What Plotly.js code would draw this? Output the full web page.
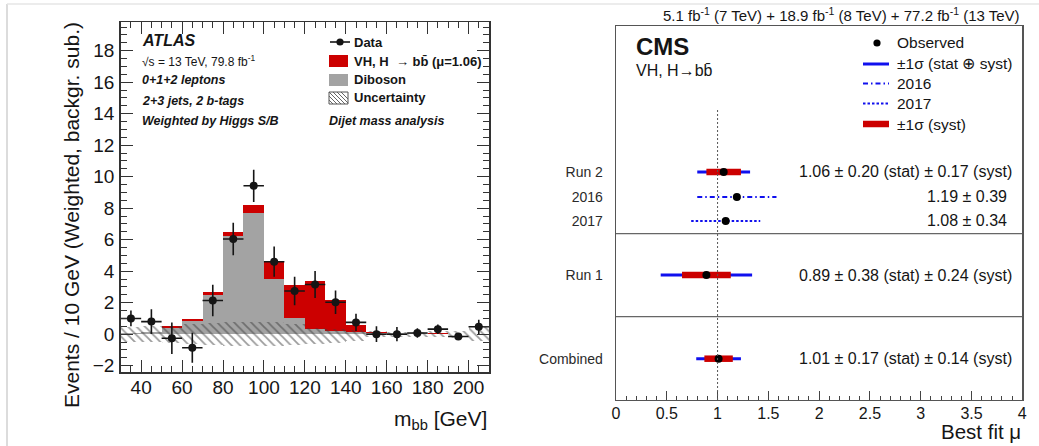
<!DOCTYPE html>
<html>
<head>
<meta charset="utf-8">
<script src="https://cdn.plot.ly/plotly-3.0.1.min.js"></script>
<style>
  html, body { margin: 0; padding: 0; background: #ffffff; }
  #chart { width: 1039px; height: 446px; }
</style>
</head>
<body>
<div id="chart"></div>
<script>
// ---------------- DATA ----------------
// ATLAS: m_bb histogram (10 GeV bins, centres)
const binCenters = [35, 45, 55, 65, 75, 85, 95, 105, 115, 125, 135, 145, 155, 165, 175, 185, 195, 205];
const diboson    = [0.05, 0.15, 0.42, 0.82, 2.50, 6.22, 7.70, 3.50, 1.00, 0.32, 0.20, 0.17, 0.10, 0.07, 0.05, 0.04, 0.03, 0.02];
const vhSignal   = [0.00, 0.02, 0.10, 0.12, 0.15, 0.25, 0.50, 1.15, 2.15, 3.08, 2.00, 0.43, 0.07, 0.03, 0.01, 0.01, 0.00, 0.00];
const dataVals   = [1.00, 0.80, -0.26, -0.86, 2.14, 6.04, 9.42, 4.60, 2.74, 3.15, 2.03, 0.75, 0.00, 0.00, 0.08, 0.32, -0.15, 0.47];
const dataErr    = [0.50, 0.78, 1.00, 0.95, 1.00, 1.03, 1.02, 0.96, 0.90, 0.86, 0.75, 0.55, 0.50, 0.45, 0.30, 0.30, 0.15, 0.45];
const uncUp      = [0.47, 0.50, 0.55, 0.65, 0.72, 0.80, 0.80, 0.78, 0.65, 0.38, 0.33, 0.25, 0.18, 0.15, 0.15, 0.18, 0.20, 0.47];
const uncDown    = [0.47, 0.50, 0.55, 0.62, 0.68, 0.72, 0.75, 0.72, 0.68, 0.60, 0.55, 0.40, 0.20, 0.15, 0.15, 0.18, 0.25, 0.42];
const atlasXTicks = [40, 60, 80, 100, 120, 140, 160, 180, 200];

// CMS: best-fit signal strength
const cmsLabels = ['Run 2', '2016', '2017', 'Run 1', 'Combined'];
const cmsMu     = [1.06, 1.19, 1.08, 0.89, 1.01];
const cmsTotErr = [0.26, 0.39, 0.34, 0.45, 0.22];
const cmsStat   = [0.20, null, null, 0.38, 0.17];
const cmsSyst   = [0.17, null, null, 0.24, 0.14];
const cmsXTicks = [0, 0.5, 1, 1.5, 2, 2.5, 3, 3.5, 4];

// ---------------- LAYOUT HELPERS ----------------
const W = 1039, H = 446;
const px = x => x / W;
const py = y => 1 - y / H;
const FONT = 'Liberation Sans, Arial, Helvetica, sans-serif';
const RED = '#cc0000', GRAY = '#a3a3a3', BLUE = '#1010ee', INK = '#151515';

// CMS row placement (y2 axis in pixel-like units, 0 = bottom of frame)
const cmsRowPos = [228, 203, 179, 125, 41.3];
const cmsRowDash = ['solid', '5px,3px,1.5px,3px', '2.5px,2px', 'solid', 'solid'];
const cmsSeparators = [166.3, 83.3];

// ---------------- TRACES ----------------
const traces = [];

// Diboson (grey)
traces.push({
  type: 'bar', x: binCenters, y: diboson, base: 0,
  marker: { color: GRAY, line: { width: 0 } },
  xaxis: 'x', yaxis: 'y', showlegend: false, name: 'Diboson'
});
// VH signal stacked on diboson (red)
traces.push({
  type: 'bar', x: binCenters, y: vhSignal, base: diboson,
  marker: { color: RED, line: { width: 0 } },
  xaxis: 'x', yaxis: 'y', showlegend: false, name: 'VH, H → bb̄'
});
// Uncertainty band (hatched)
traces.push({
  type: 'bar', x: binCenters,
  y: uncUp.map((u, i) => u + uncDown[i]),
  base: uncDown.map(d => -d),
  marker: {
    color: 'rgba(0,0,0,0)', line: { width: 0 },
    pattern: { shape: '\\', fgcolor: '#3a3a3a', bgcolor: 'rgba(0,0,0,0)', size: 6, solidity: 0.3, fillmode: 'overlay' }
  },
  xaxis: 'x', yaxis: 'y', showlegend: false, name: 'Uncertainty'
});
// Data points
traces.push({
  type: 'scatter', mode: 'markers', x: binCenters, y: dataVals,
  marker: { color: INK, size: 8 },
  error_y: { type: 'data', array: dataErr, color: INK, thickness: 1.6, width: 0 },
  error_x: { type: 'constant', value: 5, color: INK, thickness: 1.6, width: 0 },
  xaxis: 'x', yaxis: 'y', showlegend: false, name: 'Data'
});

// CMS total uncertainty lines
cmsLabels.forEach((lab, i) => {
  traces.push({
    type: 'scatter', mode: 'lines',
    x: [cmsMu[i] - cmsTotErr[i], cmsMu[i] + cmsTotErr[i]],
    y: [cmsRowPos[i], cmsRowPos[i]],
    line: { color: BLUE, width: cmsRowDash[i] === 'solid' ? 3 : 2.2, dash: cmsRowDash[i] },
    xaxis: 'x2', yaxis: 'y2', showlegend: false, name: lab
  });
});
// CMS systematic bars
cmsLabels.forEach((lab, i) => {
  if (cmsSyst[i] === null) return;
  traces.push({
    type: 'scatter', mode: 'lines',
    x: [cmsMu[i] - cmsSyst[i], cmsMu[i] + cmsSyst[i]],
    y: [cmsRowPos[i], cmsRowPos[i]],
    line: { color: RED, width: 6.5 },
    xaxis: 'x2', yaxis: 'y2', showlegend: false, name: lab + ' syst'
  });
});
// CMS observed
traces.push({
  type: 'scatter', mode: 'markers', x: cmsMu, y: cmsRowPos,
  marker: { color: '#000000', size: 8 },
  xaxis: 'x2', yaxis: 'y2', showlegend: false, name: 'Observed'
});

// ---------------- ANNOTATIONS ----------------
const ann = [];
function txt(x, y, text, size, opts) {
  ann.push(Object.assign({
    xref: 'paper', yref: 'paper', x: px(x), y: py(y), text: text, showarrow: false,
    xanchor: 'left', yanchor: 'middle', font: { family: FONT, size: size, color: INK }
  }, opts || {}));
}
// ATLAS texts
txt(140, 40, '<b><i>ATLAS</i></b>', 16);
txt(140, 61, '√s = 13 TeV, 79.8 fb<sup>-1</sup>', 12);
txt(140, 80, '<b><i>0+1+2 leptons</i></b>', 12.5);
txt(140, 101, '<b><i>2+3 jets, 2 b-tags</i></b>', 12.5);
txt(140, 121, '<b><i>Weighted by Higgs S/B</i></b>', 12.5);
txt(327, 121, '<b><i>Dijet mass analysis</i></b>', 12.5);
txt(352, 42, '<b>Data</b>', 13);
txt(352, 61, '<b>VH, H  → bb\u0304 (μ=1.06)</b>', 13);
txt(352, 80, '<b>Diboson</b>', 13);
txt(352, 98, '<b>Uncertainty</b>', 13);
txt(72, 215, 'Events / 10 GeV (Weighted, backgr. sub.)', 21, { textangle: -90, xanchor: 'center' });
txt(489, 420, 'm<sub>bb</sub> [GeV]', 21, { xanchor: 'right' });

// CMS texts
txt(1022, 15, '5.1 fb<sup>-1</sup> (7 TeV) + 18.9 fb<sup>-1</sup> (8 TeV) + 77.2 fb<sup>-1</sup> (13 TeV)', 15, { xanchor: 'right' });
txt(634, 47, '<b>CMS</b>', 24);
txt(634, 70, 'VH, H→bb\u0304', 16);
txt(895, 43, 'Observed', 15.5);
txt(895, 64, '±1σ (stat ⊕ syst)', 15.5);
txt(895, 83.5, '2016', 15.5);
txt(895, 103.5, '2017', 15.5);
txt(895, 124, '±1σ (syst)', 15.5);
txt(1022, 431, 'Best fit μ', 20.5, { xanchor: 'right', borderpad: 0 });

// CMS result strings, built from the data
cmsLabels.forEach((lab, i) => {
  let s;
  if (cmsStat[i] !== null) {
    s = cmsMu[i].toFixed(2) + ' ± ' + cmsStat[i].toFixed(2) + ' (stat) ± ' + cmsSyst[i].toFixed(2) + ' (syst)';
  } else {
    s = cmsMu[i].toFixed(2) + ' ± ' + cmsTotErr[i].toFixed(2);
  }
  ann.push({
    xref: 'x2', yref: 'y2', x: cmsStat[i] !== null ? 1.785 : 3.045, y: cmsRowPos[i],
    text: s, showarrow: false, xanchor: 'left', yanchor: 'middle',
    font: { family: FONT, size: 16, color: INK }
  });
});

// ---------------- SHAPES ----------------
const shapes = [];
function pline(x0, y0, x1, y1, color, width, dash) {
  shapes.push({ type: 'line', xref: 'paper', yref: 'paper', x0: px(x0), y0: py(y0), x1: px(x1), y1: py(y1),
    line: { color: color, width: width, dash: dash || 'solid' } });
}
function prect(x0, y0, x1, y1, fill, lineColor, lw) {
  shapes.push({ type: 'rect', xref: 'paper', yref: 'paper', x0: px(x0), y0: py(y0), x1: px(x1), y1: py(y1),
    fillcolor: fill, line: { color: lineColor || 'rgba(0,0,0,0)', width: lw || 0 } });
}
function pcircle(cx, cy, r, fill) {
  shapes.push({ type: 'circle', xref: 'paper', yref: 'paper', x0: px(cx - r), y0: py(cy - r), x1: px(cx + r), y1: py(cy + r),
    fillcolor: fill, line: { color: fill, width: 0 } });
}
// card border
pline(7, 446, 7, 4, '#dcdcdc', 2);
pline(7, 4, 1039, 4, '#e6e6e6', 1.5);

// ATLAS legend keys
pline(330, 42, 350, 42, INK, 1.6);
pcircle(340, 42, 3.6, INK);
prect(329, 55, 348, 67, RED);
prect(329, 74, 348, 86, GRAY);
prect(329, 92, 348, 104, 'rgba(0,0,0,0)', '#555', 1);
for (let k = 0; k < 7; k++) {
  // "\" hatch lines clipped to box 329..348 x 92..104
  const x0 = 329 + k * 4 - 12;
  let ax = x0, ay = 92, bx = x0 + 12, by = 104;
  if (ax < 329) { ay = 92 + (329 - ax); ax = 329; }
  if (bx > 348) { by = 104 - (bx - 348); bx = 348; }
  if (ay < by) pline(ax, ay, bx, by, '#555', 0.9);
}

// CMS legend keys
pcircle(877, 43, 3.6, '#000');
pline(863, 64, 889, 64, BLUE, 3);
pline(863, 83.5, 889, 83.5, BLUE, 2.2, '5px,3px,1.5px,3px');
pline(863, 103.5, 889, 103.5, BLUE, 2.2, '2.5px,2px');
pline(863, 124, 889, 124, RED, 6.5);

// CMS separators and reference line
cmsSeparators.forEach(s => {
  shapes.push({ type: 'line', xref: 'x2 domain', yref: 'y2', x0: 0, x1: 1, y0: s, y1: s,
    line: { color: '#666', width: 1.2 } });
});
shapes.push({ type: 'line', xref: 'x2', yref: 'y2', x0: 1, x1: 1, y0: 0, y1: 292,
  line: { color: '#555', width: 1, dash: '2px,2px' } });

// ---------------- LAYOUT ----------------
const layout = {
  width: W, height: H,
  margin: { l: 0, r: 0, t: 0, b: 0, pad: 0 },
  paper_bgcolor: '#ffffff', plot_bgcolor: '#ffffff',
  font: { family: FONT, color: INK },
  barmode: 'overlay', bargap: 0,
  showlegend: false, hovermode: false,
  xaxis: {
    domain: [px(120.7), px(489)], anchor: 'y', range: [30, 210],
    tickvals: atlasXTicks, ticks: 'inside', ticklen: 12, tickwidth: 1, tickcolor: '#333',
    minor: { dtick: 5, ticks: 'inside', ticklen: 6, tickcolor: '#333', tickwidth: 1 },
    showline: true, linecolor: '#333', linewidth: 1.5, mirror: 'allticks',
    showgrid: false, zeroline: false,
    tickfont: { family: FONT, size: 19, color: INK }, ticklabelstandoff: -2
  },
  yaxis: {
    domain: [py(372), py(22.3)], anchor: 'x', range: [-2.4, 19.8],
    dtick: 2, tick0: 0, ticks: 'inside', ticklen: 12, tickwidth: 1, tickcolor: '#333',
    minor: { dtick: 0.5, ticks: 'inside', ticklen: 6, tickcolor: '#333', tickwidth: 1 },
    showline: true, linecolor: '#333', linewidth: 1.5, mirror: 'allticks',
    showgrid: false, zeroline: false,
    tickfont: { family: FONT, size: 19, color: INK }, ticklabelstandoff: 1
  },
  xaxis2: {
    domain: [px(616), px(1022.3)], anchor: 'y2', range: [0, 4],
    tickvals: cmsXTicks, ticks: 'inside', ticklen: 9, tickwidth: 1, tickcolor: '#444',
    minor: { dtick: 0.1, ticks: 'inside', ticklen: 4.5, tickcolor: '#444', tickwidth: 1 },
    showline: true, linecolor: '#555', linewidth: 1.3, mirror: true,
    showgrid: false, zeroline: false,
    tickfont: { family: FONT, size: 16, color: INK }, ticklabelstandoff: -2
  },
  yaxis2: {
    domain: [py(400), py(26)], anchor: 'x2', range: [0, 374],
    tickvals: cmsRowPos, ticktext: cmsLabels, ticks: '',
    showline: true, linecolor: '#555', linewidth: 1.3, mirror: true,
    showgrid: false, zeroline: false,
    tickfont: { family: FONT, size: 14, color: '#2a2a2a' }, ticklabelstandoff: 9
  },
  annotations: ann,
  shapes: shapes
};

Plotly.newPlot('chart', traces, layout, { staticPlot: true, displayModeBar: false });
</script>
</body>
</html>
